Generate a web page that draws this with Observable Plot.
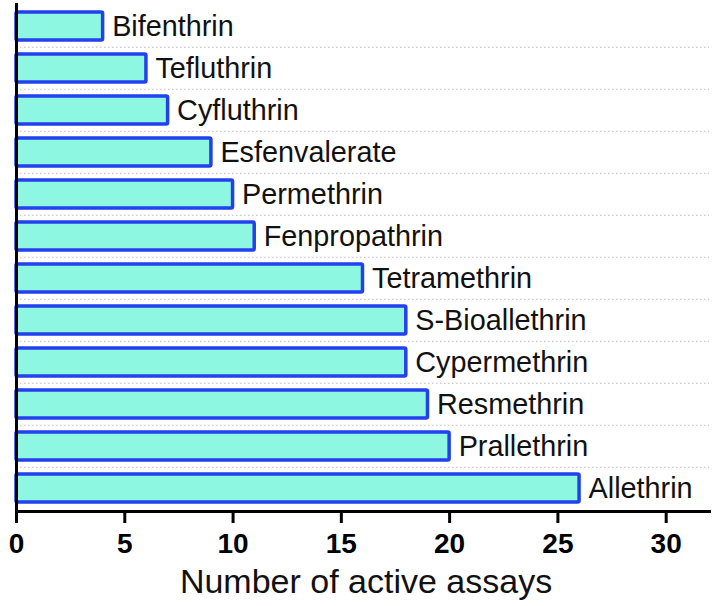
<!DOCTYPE html>
<html>
<head>
<meta charset="utf-8">
<script src="https://cdn.jsdelivr.net/npm/d3@7"></script>
<script src="https://cdn.jsdelivr.net/npm/@observablehq/plot@0.6"></script>
<style>
  html, body { margin: 0; padding: 0; background: #fff; }
  svg { display: block; }
</style>
</head>
<body>
<div id="chart"></div>
<script>
const compounds = ["Bifenthrin", "Tefluthrin", "Cyfluthrin", "Esfenvalerate", "Permethrin", "Fenpropathrin", "Tetramethrin", "S-Bioallethrin", "Cypermethrin", "Resmethrin", "Prallethrin", "Allethrin"];
const activeAssays = [4, 6, 7, 9, 10, 11, 16, 18, 18, 19, 20, 26];
const xTicks = [0, 5, 10, 15, 20, 25, 30];
const xDomain = [0, 32];
const xTitle = "Number of active assays";

const data = compounds.map((name, i) => ({name, value: activeAssays[i]}));

const W = 714, H = 606;
const mTop = 3, mBottom = 95, mLeft = 16, mRight = 5;
const padIn = 0.33, padOut = 0.153;
const step = (H - mTop - mBottom) / (compounds.length - padIn + 2 * padOut);
const font = "'Liberation Sans', Arial, sans-serif";

const chart = Plot.plot({
  width: W,
  height: H,
  marginTop: mTop,
  marginBottom: mBottom,
  marginLeft: mLeft,
  marginRight: mRight,
  style: {fontFamily: font, background: "#fff", color: "#000"},
  x: {domain: xDomain, ticks: xTicks},
  y: {domain: compounds, paddingInner: padIn, paddingOuter: padOut, axis: null},
  marks: [
    Plot.ruleY(compounds.slice(1), {
      y: d => d, dy: -step / 2, stroke: "#bdbdbd", strokeWidth: 1, strokeDasharray: "1.5,2.5"
    }),
    Plot.barX(data, {
      x: "value", y: "name", fill: "#8ef7e1", stroke: "#2340ee", strokeWidth: 3.5, rx: 1.5
    }),
    Plot.text(data, {
      x: "value", y: "name", text: "name", textAnchor: "start", dx: 9,
      fontSize: 28.8, fill: "#111", lineAnchor: "middle"
    }),
    Plot.ruleX([0], {stroke: "#000", strokeWidth: 3}),
    Plot.frame({anchor: "bottom", stroke: "#000", strokeWidth: 3}),
    Plot.axisX({
      ticks: xTicks, tickSize: 12, tickPadding: 10, strokeWidth: 3,
      fontSize: 28, fontWeight: "bold", label: null, tickFormat: d => String(d)
    }),
    Plot.text([xTitle], {
      text: d => d, frameAnchor: "bottom", dy: 70.3, dx: 3, lineAnchor: "middle",
      fontSize: 34, fill: "#111"
    })
  ]
});
document.getElementById("chart").appendChild(chart);
</script>
</body>
</html>
